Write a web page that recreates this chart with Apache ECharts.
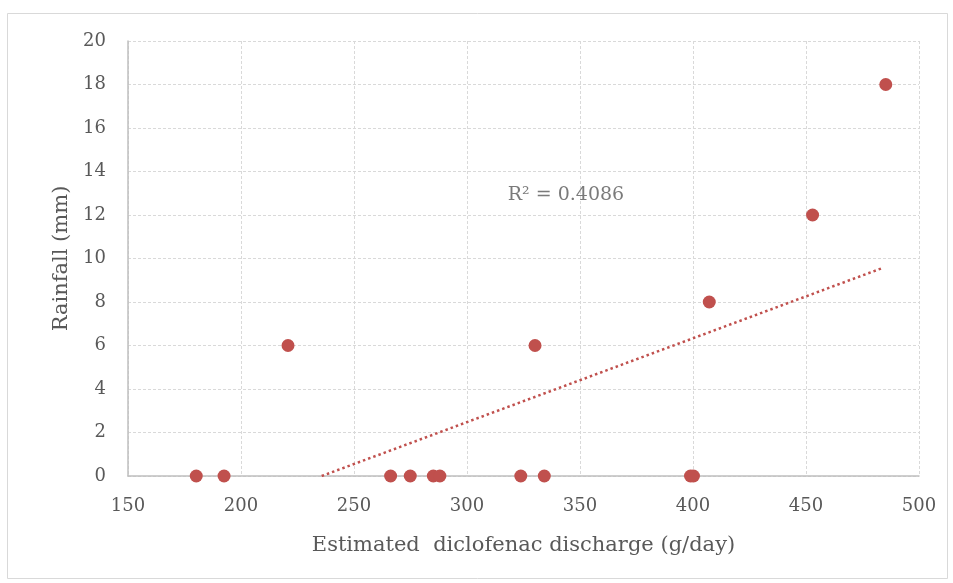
<!DOCTYPE html>
<html><head><meta charset="utf-8">
<script src="https://cdn.jsdelivr.net/npm/echarts@6/dist/echarts.min.js"></script>
<style>html,body{margin:0;padding:0;background:#fff}#c{width:953px;height:583px}</style>
</head><body><div id="c"></div>
<script>
const discharge = [180.2, 192.5, 220.8, 266.2, 274.9, 285.1, 288.0, 323.8, 330.1, 334.2, 398.9, 400.2, 407.2, 452.9, 485.3];
const rainfall  = [0, 0, 6, 0, 0, 0, 0, 0, 6, 0, 0, 0, 8, 12, 18];
const trendX = [235.7, 483.5];
const trendY = [0, 9.55];
const r2Label = 'R² = 0.4086';
const r2Pos = [343.8, 12.92];
const xTitle = 'Estimated  diclofenac discharge (g/day)';
const yTitle = 'Rainfall (mm)';

const font = '"DejaVu Serif", "Liberation Serif", serif';
const chart = echarts.init(document.getElementById('c'), null, {renderer: 'canvas'});
const pts = discharge.map((x, i) => [x, rainfall[i]]);
const trend = trendX.map((x, i) => [x, trendY[i]]);
chart.setOption({
  animation: false,
  backgroundColor: '#fff',
  graphic: [{
    type: 'rect', shape: {x: 7.5, y: 13.5, width: 940, height: 565},
    style: {fill: 'none', stroke: '#d9d9d9', lineWidth: 1}, silent: true, z: -1
  }],
  grid: {left: 128, right: 34, top: 41, bottom: 107},
  xAxis: {
    type: 'value', min: 150, max: 500, interval: 50,
    name: xTitle, nameLocation: 'middle', nameGap: 59,
    nameTextStyle: {fontFamily: font, fontSize: 21, color: '#595959'},
    axisLine: {show: true, onZero: false, lineStyle: {color: '#bfbfbf', width: 1.5}},
    axisTick: {show: false},
    axisLabel: {fontFamily: font, fontSize: 18, color: '#595959', margin: 21},
    splitLine: {show: true, lineStyle: {color: '#d9d9d9', type: [3, 2], width: 1}}
  },
  yAxis: {
    type: 'value', min: 0, max: 20, interval: 2,
    name: yTitle, nameLocation: 'middle', nameGap: 55, nameRotate: 90,
    nameTextStyle: {fontFamily: font, fontSize: 21, color: '#595959'},
    axisLine: {show: true, lineStyle: {color: '#bfbfbf', width: 1.5}},
    axisTick: {show: false},
    axisLabel: {fontFamily: font, fontSize: 18, color: '#595959', margin: 22},
    splitLine: {show: true, lineStyle: {color: '#d9d9d9', type: [3, 2], width: 1}}
  },
  series: [{
    type: 'line', data: trend, symbol: 'none', silent: true, z: 1,
    lineStyle: {color: '#c0504d', width: 2.5, type: [2.5, 3]}
  }, {
    type: 'scatter', data: pts, symbol: 'circle', symbolSize: 13, z: 3,
    itemStyle: {color: '#c0504d', opacity: 1}
  }, {
    type: 'scatter', data: [r2Pos], symbolSize: 0, silent: true,
    label: {show: true, position: 'inside', formatter: r2Label, fontFamily: font, fontSize: 19, color: '#595959'}
  }]
});
</script></body></html>
